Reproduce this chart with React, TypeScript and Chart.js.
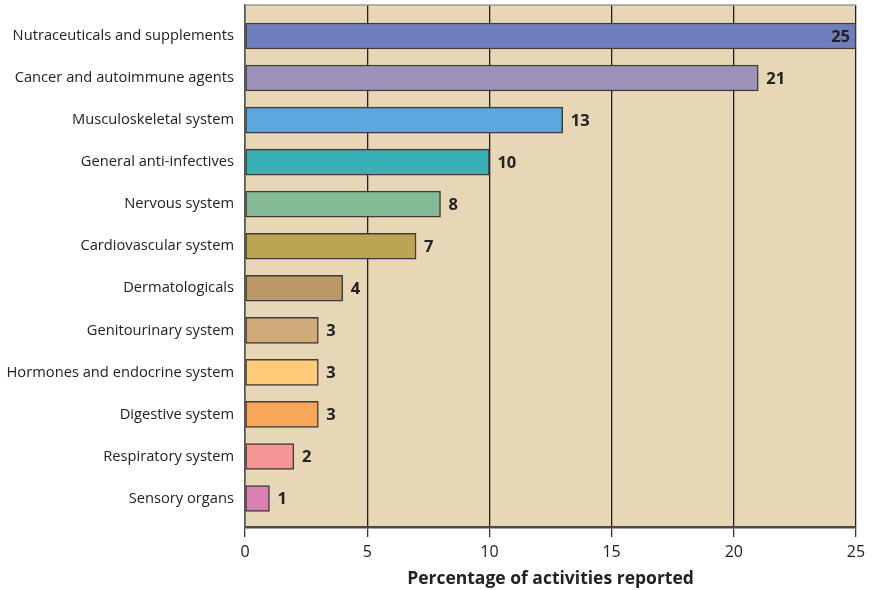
import React, { useEffect, useRef } from "react";
import { Chart, registerables } from "chart.js";

Chart.register(...registerables);

// Therapeutic categories, top to bottom
const categories = [
  "Nutraceuticals and supplements",
  "Cancer and autoimmune agents",
  "Musculoskeletal system",
  "General anti-infectives",
  "Nervous system",
  "Cardiovascular system",
  "Dermatologicals",
  "Genitourinary system",
  "Hormones and endocrine system",
  "Digestive system",
  "Respiratory system",
  "Sensory organs",
];

// Percentage of activities reported
const values = [25, 21, 13, 10, 8, 7, 4, 3, 3, 3, 2, 1];

const barColors = [
  "#6F7EBF",
  "#9D93BA",
  "#5BA8DC",
  "#37AFB3",
  "#84BA96",
  "#BBA553",
  "#BA9766",
  "#D0AA78",
  "#FFCB7A",
  "#F8A65A",
  "#F49696",
  "#DB82B5",
];

const xTicks = [0, 5, 10, 15, 20, 25];

const PLOT_BG = "#E8D7B6";
const FONT = "'Open Sans', 'Noto Sans', sans-serif";

const panelPlugin = {
  id: "panel",
  beforeDraw(chart: any) {
    const { ctx, chartArea: a } = chart;
    ctx.save();
    ctx.fillStyle = PLOT_BG;
    ctx.fillRect(a.left, a.top, a.right - a.left, a.bottom - a.top);
    ctx.restore();
  },
  afterDraw(chart: any) {
    const { ctx, chartArea: a } = chart;
    ctx.save();
    ctx.strokeStyle = "#9a9a9a";
    ctx.lineWidth = 1.5;
    ctx.beginPath();
    ctx.moveTo(a.left, a.top);
    ctx.lineTo(a.right, a.top);
    ctx.stroke();
    ctx.restore();
  },
};

const valueLabelPlugin = {
  id: "valueLabels",
  afterDatasetsDraw(chart: any) {
    const { ctx, chartArea: a } = chart;
    const meta = chart.getDatasetMeta(0);
    ctx.save();
    ctx.font = `bold 16.5px ${FONT}`;
    ctx.textBaseline = "middle";
    meta.data.forEach((bar: any, i: number) => {
      const text = String(values[i]);
      const w = ctx.measureText(text).width;
      const h = bar.height;
      const gap = 8;
      if (bar.x + gap + w > a.right) {
        ctx.fillStyle = "#222";
        ctx.textAlign = "right";
        ctx.fillText(text, bar.x - 6, bar.y + 1);
      } else {
        const x0 = bar.x + gap;
        ctx.fillStyle = PLOT_BG;
        ctx.fillRect(x0 - 5, bar.y - h / 2, w + 10, h);
        ctx.fillStyle = "#222";
        ctx.textAlign = "left";
        ctx.fillText(text, x0, bar.y + 1);
      }
    });
    ctx.restore();
  },
};

export default function App() {
  const canvasRef = useRef<HTMLCanvasElement | null>(null);

  useEffect(() => {
    document.body.style.margin = "0";
    const canvas = canvasRef.current;
    if (!canvas) return;
    const chart = new Chart(canvas, {
      type: "bar",
      data: {
        datasets: [
          {
            data: values.map((v, i) => ({ x: v, y: i })) as any,
            backgroundColor: barColors,
            borderColor: "#3f3b37",
            borderWidth: 1.5,
            borderSkipped: false,
            barThickness: 26,
          },
        ],
      },
      plugins: [panelPlugin, valueLabelPlugin],
      options: {
        indexAxis: "y",
        animation: false,
        responsive: false,
        maintainAspectRatio: false,
        devicePixelRatio: 1,
        layout: { padding: { top: 5, right: 16, left: 0, bottom: 0 } },
        plugins: {
          legend: { display: false },
          tooltip: { enabled: false },
          title: { display: false },
        },
        scales: {
          x: {
            type: "linear",
            min: 0,
            max: 25,
            afterBuildTicks: (scale: any) => {
              scale.ticks = xTicks.map((v) => ({ value: v }));
            },
            grid: {
              color: "#1e1e1e",
              lineWidth: 1.3,
              drawTicks: true,
              tickLength: 10,
              tickColor: "#333",
              tickWidth: 1.3,
            },
            border: { display: true, color: "#4a4a4a", width: 2.5 },
            ticks: {
              color: "#222",
              font: { family: FONT, size: 16 },
              padding: 6,
            },
            title: {
              display: true,
              text: "Percentage of activities reported",
              color: "#222",
              font: { family: FONT, size: 17.5, weight: "bold" },
              padding: { top: 1, bottom: 0 },
            },
            afterFit: (scale: any) => {
              scale.height = 63;
            },
          },
          y: {
            type: "linear",
            offset: false,
            reverse: true,
            min: -0.737,
            max: 11.677,
            afterBuildTicks: (scale: any) => {
              scale.ticks = categories.map((_, i) => ({ value: i }));
            },
            grid: { display: false, drawTicks: false },
            border: { display: true, color: "#555", width: 1.5 },
            ticks: {
              color: "#222",
              font: { family: FONT, size: 14.7 },
              padding: 11,
              autoSkip: false,
              callback: (v: any) => categories[Number(v)] ?? "",
            },
            afterFit: (scale: any) => {
              scale.width = 245;
              scale.paddingTop = 0;
              scale.paddingBottom = 0;
            },
          },
        },
      } as any,
    });
    return () => chart.destroy();
  }, []);

  return (
    <div style={{ width: 872, height: 590 }}>
      <canvas ref={canvasRef} width={872} height={590} />
    </div>
  );
}
